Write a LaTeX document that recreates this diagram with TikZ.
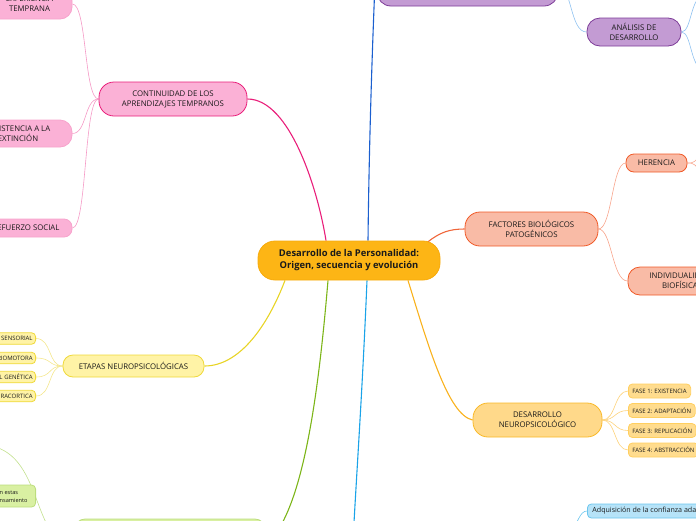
\documentclass[tikz,border=0pt]{standalone}
\usepackage{fontspec}
\setmainfont{Open Sans}
\usetikzlibrary{backgrounds}
\newcommand{\myfs}[2]{\fontsize{#1}{#2}\selectfont}
\definecolor{txt}{HTML}{1A1A1A}
\definecolor{ctrfill}{HTML}{FDB515}
\definecolor{ctrline}{HTML}{F7AA0A}
\definecolor{pinkmain}{HTML}{E91E7A}
\definecolor{pinkfill}{HTML}{FBB1D6}
\definecolor{pinkthin}{HTML}{F59AC6}
\definecolor{pinkchildline}{HTML}{F7A3CC}
\definecolor{yelmain}{HTML}{E8D426}
\definecolor{yelfill}{HTML}{FFF3A6}
\definecolor{yelline}{HTML}{EFD93A}
\definecolor{yelthin}{HTML}{F4E68C}
\definecolor{grnmain}{HTML}{7CB518}
\definecolor{grnfill}{HTML}{D9F0A2}
\definecolor{grnline}{HTML}{BCDD7C}
\definecolor{grnthin}{HTML}{C2E08C}
\definecolor{cyanmain}{HTML}{1AA3E8}
\definecolor{bluemain}{HTML}{1B5FCF}
\definecolor{bluethin}{HTML}{8EC1F0}
\definecolor{purfill}{HTML}{C39BD3}
\definecolor{purline}{HTML}{7D3C98}
\definecolor{redmain}{HTML}{F0663A}
\definecolor{salfill}{HTML}{F9BBA6}
\definecolor{salline}{HTML}{F05A28}
\definecolor{salthin}{HTML}{F8A58C}
\definecolor{orgmain}{HTML}{F9B21E}
\definecolor{orgfill}{HTML}{FFD98A}
\definecolor{orgline}{HTML}{F9B928}
\definecolor{fasefill}{HTML}{FFDC8E}
\definecolor{faseline}{HTML}{FFCF60}
\definecolor{orgthin}{HTML}{FDD27A}
\definecolor{lbfill}{HTML}{B6E3F8}
\definecolor{lbline}{HTML}{6CC6EE}
\begin{document}
\begin{tikzpicture}[x=1pt,y=-1pt,
  box/.style={draw, line width=0.8pt, align=center, inner sep=0pt, text=txt},
  mainlink/.style={line width=1.1pt},
  thinlink/.style={line width=0.6pt},
  capsfont/.style={font=\myfs{7.8}{10}},
  smallfont/.style={font=\myfs{6}{7}}]
\useasboundingbox (0,0) rectangle (696,520);
\clip (0,0) rectangle (696,520);

% central
\node[box, fill=ctrfill, draw=ctrline, minimum width=182pt, minimum height=39pt,
  rounded corners=17pt, font=\myfs{9.4}{12}\bfseries] (ctr) at (349,260.5)
  {Desarrollo de la Personalidad:\\Origen, secuencia y evolución};

% pink branch
\node[box, capsfont, fill=pinkfill, draw=pinkmain, minimum width=148pt, minimum height=34pt,
  rounded corners=15pt] (cont) at (173,99) {CONTINUIDAD DE LOS\\APRENDIZAJES TEMPRANOS};
\node[box, capsfont, fill=pinkfill, draw=pinkchildline, minimum width=85pt, minimum height=30pt,
  rounded corners=12pt] (exp) at (29.5,4) {EXPERIENCIA\\TEMPRANA};
\node[box, capsfont, fill=pinkfill, draw=pinkchildline, minimum width=108pt, minimum height=27pt,
  rounded corners=12pt] (res) at (18,133.5) {RESISTENCIA A LA\\EXTINCIÓN};
\node[box, capsfont, fill=pinkfill, draw=pinkchildline, minimum width=92pt, minimum height=18pt,
  rounded corners=8pt] (ref) at (26,228) {REFUERZO SOCIAL};

% yellow branch
\node[box, capsfont, fill=yelfill, draw=yelline, minimum width=141pt, minimum height=22pt,
  rounded corners=10pt] (eta) at (133.5,366) {ETAPAS NEUROPSICOLÓGICAS};
\tikzset{ysmall/.style={box, smallfont, fill=yelfill, draw=yelline, minimum height=11.5pt,
  text width=100pt, align=right, inner xsep=3pt, rounded corners=4pt, anchor=east}}
\node[ysmall] (y1) at (36,338.5) {ETAPA SENSORIAL};
\node[ysmall] (y2) at (36,358) {ETAPA SENSORIOMOTORA};
\node[ysmall] (y3) at (36,377) {ETAPA CORTICAL GENÉTICA};
\node[ysmall] (y4) at (36,396) {ETAPA SUPRACORTICA};

% green branch
\node[box, fill=grnfill, draw=grnline, minimum width=190pt, minimum height=52pt,
  rounded corners=10pt] (gpar) at (170,545) {};
\node[box, fill=grnfill, draw=grnline, minimum width=60pt, minimum height=22pt,
  rounded corners=4pt, anchor=east] (gch) at (36,496) {};
\node[anchor=west, align=left, inner sep=0pt, text=txt, font=\myfs{5.6}{8.5}] (gchtxt) at (-0.5,496.5)
  {n estas\\nsamiento};
\coordinate (gup) at (-15,445);

% blue / purple branch
\node[box, fill=purfill, draw=purline, minimum width=181pt, minimum height=40pt,
  rounded corners=14pt] (pur) at (467.5,-14) {};
\node[box, capsfont, fill=purfill, draw=purline, minimum width=94pt, minimum height=28pt,
  rounded corners=13pt] (ana) at (634,32) {ANÁLISIS DE\\DESARROLLO};
\coordinate (blueend) at (376,-40);
\coordinate (ana1) at (705,-5);
\coordinate (ana2) at (705,70);

% red branch
\node[box, capsfont, fill=salfill, draw=salline, minimum width=133pt, minimum height=34pt,
  rounded corners=15pt] (fact) at (531.5,229) {FACTORES BIOLÓGICOS\\PATOGÉNICOS};
\node[box, capsfont, fill=salfill, draw=salline, minimum width=61pt, minimum height=18pt,
  rounded corners=8pt] (her) at (656.5,163) {HERENCIA};
\node[box, capsfont, fill=salfill, draw=salline, minimum width=104pt, minimum height=28pt,
  rounded corners=12pt] (ind) at (680,281) {INDIVIDUALIDAD\\BIOFÍSICA};
\coordinate (her1) at (705,150);
\coordinate (her2) at (705,177);

% orange branch
\node[box, capsfont, fill=orgfill, draw=orgline, minimum width=129pt, minimum height=34pt,
  rounded corners=15pt] (neu) at (537.5,420) {DESARROLLO\\NEUROPSICOLÓGICO};
\tikzset{fase/.style={box, smallfont, fill=fasefill, draw=faseline, minimum height=14pt,
  inner xsep=4pt, rounded corners=4pt, anchor=west}}
\node[fase] (f1) at (628,391) {FASE 1: EXISTENCIA};
\node[fase] (f2) at (628,410.5) {FASE 2: ADAPTACIÓN};
\node[fase] (f3) at (628,430.5) {FASE 3: REPLICACIÓN};
\node[fase] (f4) at (628,450) {FASE 4: ABSTRACCIÓN};

% light blue
\node[box, fill=lbfill, draw=lbline, minimum height=14pt, inner xsep=5pt, rounded corners=4pt,
  anchor=west, font=\myfs{7.1}{8}] (lb) at (587,511) {Adquisición de la confianza adaptativa};
\coordinate (lb0) at (570,535);
\coordinate (cyanend) at (352,560);

\begin{pgfonlayer}{background}
% main links
\draw[mainlink, pinkmain] ([xshift=-23pt]ctr.north) .. controls (318,190) and (290,99) .. (cont.east);
\draw[mainlink, yelmain] ([xshift=-64pt]ctr.south) .. controls (268,325) and (240,366) .. (eta.east);
\draw[mainlink, grnmain] ([xshift=-21pt]ctr.south) .. controls (318,400) and (302,515) .. (gpar.east);
\draw[mainlink, cyanmain] ([xshift=18pt]ctr.south) .. controls (362,400) and (356,480) .. (cyanend);
\draw[mainlink, bluemain] ([xshift=19pt]ctr.north) .. controls (369,150) and (372,50) .. (blueend);
\draw[mainlink, redmain] ([xshift=78pt,yshift=-2pt]ctr.north) .. controls (440,232) and (450,229) .. (fact.west);
\draw[mainlink, orgmain] ([xshift=59pt]ctr.south) .. controls (428,345) and (448,415) .. (neu.west);
% pink thin
\draw[thinlink, pinkthin] (cont.west) .. controls (84,99) and (87,4) .. (exp.east);
\draw[thinlink, pinkthin] (cont.west) .. controls (84,99) and (87,133.5) .. (res.east);
\draw[thinlink, pinkthin] (cont.west) .. controls (84,99) and (87,228) .. (ref.east);
% yellow thin
\foreach \n in {y1,y2,y3,y4}
  \draw[thinlink, yelthin] (eta.west) .. controls (48,366) and (52,0 |- \n.east) .. (\n.east);
% green thin
\draw[thinlink, grnthin] (gpar.west) .. controls (30,545) and (45,450) .. (gup);
% purple / blue thin
\draw[thinlink, bluethin] (pur.east) .. controls (572,-14) and (570,32) .. (ana.west);
\draw[thinlink, bluethin] (ana.east) .. controls (692,32) and (690,-5) .. (ana1);
\draw[thinlink, bluethin] (ana.east) .. controls (692,32) and (690,70) .. (ana2);
% red thin
\draw[thinlink, salthin] (fact.east) .. controls (612,229) and (612,163) .. (her.west);
\draw[thinlink, salthin] (fact.east) .. controls (612,229) and (612,281) .. (ind.west);
\draw[thinlink, salthin] (her.east) .. controls (694,163) .. (her1);
\draw[thinlink, salthin] (her.east) .. controls (694,163) .. (her2);
% orange thin
\foreach \n in {f1,f2,f3,f4}
  \draw[thinlink, orgthin] (neu.east) .. controls (616,420) and (614,0 |- \n.west) .. (\n.west);
% light blue thin
\draw[thinlink, lbline] (lb.west) .. controls (580,511) and (578,522) .. (lb0);
\end{pgfonlayer}
\end{tikzpicture}
\end{document}
